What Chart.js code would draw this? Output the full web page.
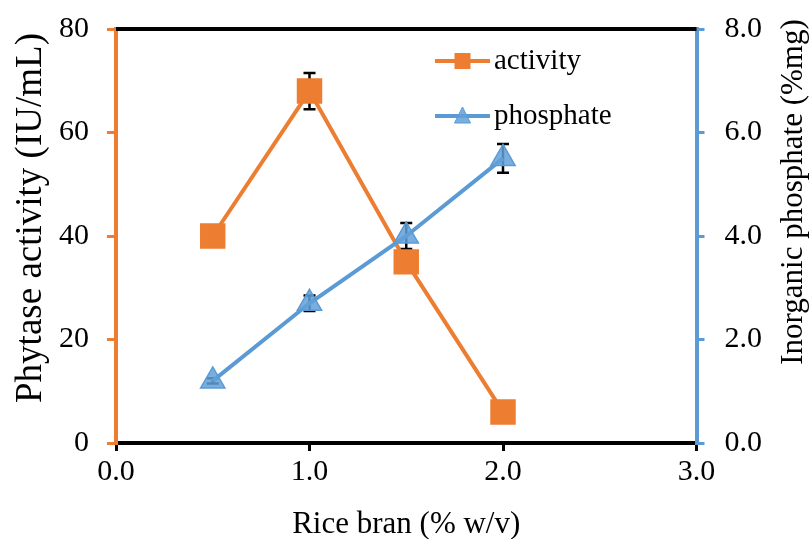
<!DOCTYPE html>
<html>
<head>
<meta charset="utf-8">
<script src="https://cdn.jsdelivr.net/npm/chart.js@4.4.1/dist/chart.umd.min.js"></script>
<style>
  html, body { margin: 0; padding: 0; background: #fff; }
  #wrap { width: 811px; height: 539px; }
</style>
</head>
<body>
<div id="wrap"><canvas id="chart" width="811" height="539"></canvas></div>
<script>
// data
const riceBran = [0.5, 1.0, 1.5, 2.0];
const activity = [40, 68, 35, 6];
const activityErr = [0.8, 3.5, 1.0, 0.8];
const phosphate = [1.2, 2.7, 4.0, 5.5];
const phosphateErr = [0.05, 0.15, 0.25, 0.28];
const xTicks = [0, 1, 2, 3];

const ORANGE = "#ED7D31";
const BLUE = "#5B9BD5";
const FONT = "'Liberation Serif', 'Times New Roman', serif";

// error bars drawn behind the markers, black frame line on top
const errorBars = {
  id: "errorBars",
  beforeDatasetsDraw(chart) {
    const ctx = chart.ctx;
    const x = chart.scales.x;
    const area = chart.chartArea;
    const sets = [
      { y: chart.scales.y, vals: activity, err: activityErr },
      { y: chart.scales.y1, vals: phosphate, err: phosphateErr },
    ];
    ctx.save();
    ctx.strokeStyle = "#000";
    ctx.lineWidth = 4;
    ctx.beginPath();
    ctx.moveTo(area.left, area.top);
    ctx.lineTo(area.right, area.top);
    ctx.stroke();

    ctx.lineWidth = 2.5;
    sets.forEach(function (s) {
      s.vals.forEach(function (v, i) {
        const px = x.getPixelForValue(riceBran[i]);
        const top = s.y.getPixelForValue(v + s.err[i]);
        const bot = s.y.getPixelForValue(v - s.err[i]);
        ctx.beginPath();
        ctx.moveTo(px, top);
        ctx.lineTo(px, bot);
        ctx.moveTo(px - 6, top);
        ctx.lineTo(px + 6, top);
        ctx.moveTo(px - 6, bot);
        ctx.lineTo(px + 6, bot);
        ctx.stroke();
      });
    });
    ctx.restore();
  },
};

// legend inside the plot, plus axis titles (right one reads bottom-to-top)
const extras = {
  id: "extras",
  afterDraw(chart) {
    const ctx = chart.ctx;
    const area = chart.chartArea;
    ctx.save();
    chart.data.datasets.forEach(function (ds, i) {
      const y = 61 + i * 55;
      const x0 = 435, x1 = 490, xm = (x0 + x1) / 2;
      ctx.strokeStyle = ds.borderColor;
      ctx.lineWidth = 4;
      ctx.beginPath();
      ctx.moveTo(x0, y);
      ctx.lineTo(x1, y);
      ctx.stroke();
      ctx.fillStyle = ds.pointBackgroundColor;
      ctx.strokeStyle = ds.pointBorderColor;
      ctx.lineWidth = 1;
      if (ds.pointStyle === "rect") {
        ctx.fillRect(xm - 8, y - 8, 16, 16);
      } else {
        ctx.beginPath();
        ctx.moveTo(xm, y - 9);
        ctx.lineTo(xm + 8, y + 7);
        ctx.lineTo(xm - 8, y + 7);
        ctx.closePath();
        ctx.fill();
        ctx.stroke();
      }
      ctx.fillStyle = "#000";
      ctx.font = "29px " + FONT;
      ctx.textAlign = "left";
      ctx.textBaseline = "middle";
      ctx.fillText(ds.label, x1 + 4, y);
    });

    ctx.fillStyle = "#000";
    ctx.textAlign = "center";
    ctx.textBaseline = "middle";

    ctx.save();
    ctx.translate(31, 218);
    ctx.rotate(-Math.PI / 2);
    ctx.font = "37px " + FONT;
    ctx.fillText("Phytase activity (IU/mL)", 0, 0);
    ctx.restore();

    ctx.save();
    ctx.translate(794, 192);
    ctx.rotate(-Math.PI / 2);
    ctx.font = "31px " + FONT;
    ctx.fillText("Inorganic phosphate (%mg)", 0, 0);
    ctx.restore();

    ctx.font = "31px " + FONT;
    ctx.fillText("Rice bran (% w/v)", (area.left + area.right) / 2, 525);
    ctx.restore();
  },
};

const ctx = document.getElementById("chart").getContext("2d");
new Chart(ctx, {
  type: "line",
  data: {
    datasets: [
      {
        label: "activity",
        data: riceBran.map((x, i) => ({ x: x, y: activity[i] })),
        yAxisID: "y",
        order: 2,
        borderColor: ORANGE,
        borderWidth: 4,
        pointStyle: "rect",
        pointRadius: 18,
        pointHoverRadius: 18,
        pointBackgroundColor: ORANGE,
        pointBorderColor: ORANGE,
        pointBorderWidth: 0,
      },
      {
        label: "phosphate",
        data: riceBran.map((x, i) => ({ x: x, y: phosphate[i] })),
        yAxisID: "y1",
        order: 1,
        borderColor: BLUE,
        borderWidth: 4,
        pointStyle: "triangle",
        pointRadius: 14,
        pointHoverRadius: 14,
        pointBackgroundColor: "rgba(98, 160, 216, 0.85)",
        pointBorderColor: BLUE,
        pointBorderWidth: 1.5,
      },
    ],
  },
  options: {
    responsive: false,
    animation: false,
    layout: { padding: { top: 28, right: 29, bottom: 46, left: 41 } },
    plugins: {
      legend: { display: false },
      tooltip: { enabled: false },
    },
    scales: {
      x: {
        type: "linear",
        min: 0,
        max: 3,
        afterBuildTicks: (axis) => { axis.ticks = xTicks.map((v) => ({ value: v })); },
        border: { color: "#000", width: 4 },
        grid: { drawOnChartArea: false, color: "#000", lineWidth: 3, tickLength: 8 },
        ticks: {
          color: "#000",
          font: { family: FONT, size: 30 },
          padding: 3,
          maxRotation: 0,
          callback: (v) => v.toFixed(1),
        },
      },
      y: {
        position: "left",
        min: 0,
        max: 80,
        border: { color: ORANGE, width: 4 },
        grid: { drawOnChartArea: false, color: ORANGE, lineWidth: 3, tickLength: 9 },
        ticks: {
          stepSize: 20,
          color: "#000",
          font: { family: FONT, size: 30, lineHeight: 0.6 },
          padding: 18,
        },
      },
      y1: {
        position: "right",
        min: 0,
        max: 8,
        border: { color: BLUE, width: 4 },
        grid: { drawOnChartArea: false, color: BLUE, lineWidth: 3, tickLength: 8 },
        ticks: {
          stepSize: 2,
          color: "#000",
          font: { family: FONT, size: 30, lineHeight: 0.6 },
          padding: 20,
          callback: (v) => v.toFixed(1),
        },
      },
    },
  },
  plugins: [errorBars, extras],
});
</script>
</body>
</html>
